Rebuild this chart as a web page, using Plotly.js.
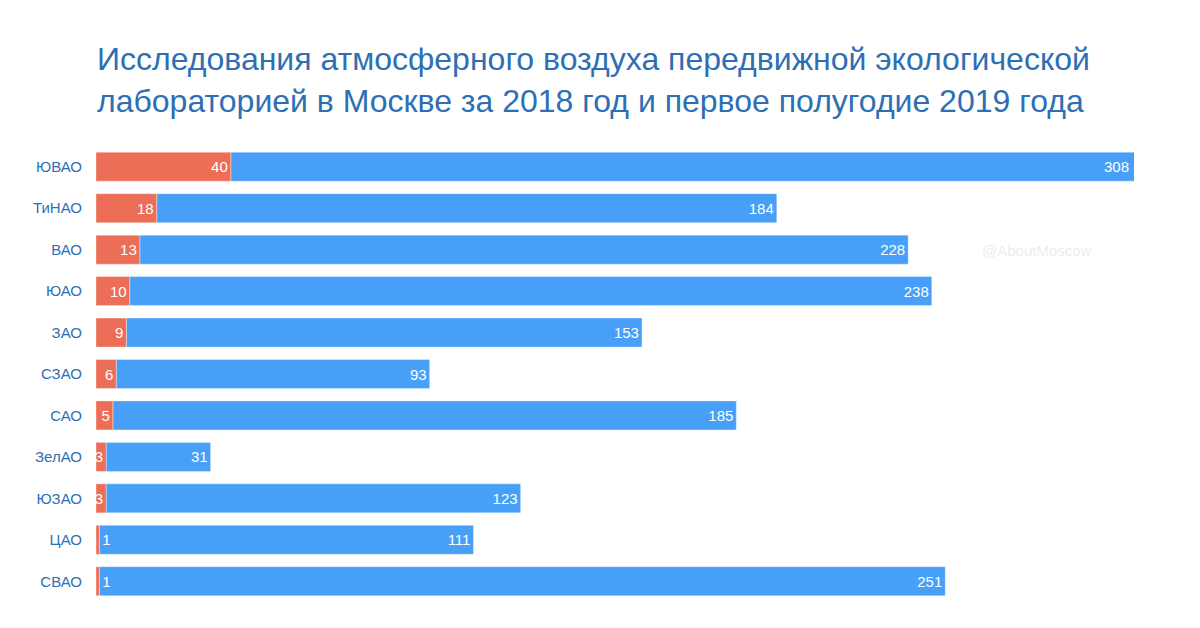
<!DOCTYPE html>
<html>
<head>
<meta charset="utf-8">
<script src="https://cdn.plot.ly/plotly-3.0.1.min.js"></script>
<style>html,body{margin:0;padding:0;background:#fff;}#chart{width:1200px;height:628px;}</style>
</head>
<body>
<div id="chart"></div>
<script>
const districts = ['ЮВАО','ТиНАО','ВАО','ЮАО','ЗАО','СЗАО','САО','ЗелАО','ЮЗАО','ЦАО','СВАО'];
const redValues = [40,18,13,10,9,6,5,3,3,1,1];
const blueValues = [308,184,228,238,153,93,185,31,123,111,251];
const titleText = 'Исследования атмосферного воздуха передвижной экологической<br>лабораторией в Москве за 2018 год и первое полугодие 2019 года';

const FONT = '"Liberation Sans", Arial, Helvetica, sans-serif';
const X_MAX = Math.max(...blueValues);

// bars whose stacked end goes past the axis range get their label at the axis edge
const clipped = blueValues.map((b, i) => redValues[i] + b > X_MAX);
const labelAnnotations = blueValues.map((b, i) => clipped[i] ? {
  x: X_MAX, y: districts[i], xref: 'x', yref: 'y', text: String(b),
  showarrow: false, xanchor: 'right', yanchor: 'middle', xshift: -3,
  font: {family: FONT, size: 15, color: '#ffffff'}
} : null).filter(Boolean);

const traces = [
  {
    type: 'bar', orientation: 'h', y: districts, x: blueValues, base: redValues,
    marker: {color: '#479FF7', line: {color: 'rgba(255,255,255,0.35)', width: 1}},
    text: blueValues.map((b, i) => clipped[i] ? '' : String(b)),
    textposition: 'inside', insidetextanchor: 'end',
    constraintext: 'none', textangle: 0,
    textfont: {color: '#ffffff', size: 15, family: FONT},
    hoverinfo: 'x+y', showlegend: false
  },
  {
    type: 'bar', orientation: 'h', y: districts, x: redValues,
    marker: {color: '#EC6E57', line: {color: 'rgba(255,255,255,0.35)', width: 1}},
    text: redValues.map(String),
    textposition: redValues.map(v => v < 2 ? 'outside' : 'inside'),
    insidetextanchor: 'end',
    constraintext: 'none', textangle: 0, cliponaxis: false,
    textfont: {color: '#ffffff', size: 15, family: FONT},
    outsidetextfont: {color: '#ffffff', size: 15, family: FONT},
    hoverinfo: 'x+y', showlegend: false
  }
];

const layout = {
  width: 1200, height: 628,
  paper_bgcolor: '#ffffff', plot_bgcolor: '#ffffff',
  barmode: 'overlay', bargap: 0.3,
  margin: {l: 96, r: 66, t: 146, b: 26},
  font: {family: FONT},
  title: {
    text: titleText,
    font: {family: FONT, size: 32, color: '#2E6FB4'},
    x: 97/1200, xref: 'container', xanchor: 'left',
    y: 1 - 70/628, yref: 'container', yanchor: 'top'
  },
  xaxis: {range: [0, X_MAX], visible: false, showgrid: false, zeroline: false, fixedrange: true},
  yaxis: {
    autorange: 'reversed', showgrid: false, zeroline: false, showline: false,
    ticks: 'outside', ticklen: 10, tickcolor: 'rgba(0,0,0,0)',
    tickfont: {family: FONT, size: 15, color: '#2E6FB4'}
  },
  annotations: labelAnnotations.concat([{
    text: '@AboutMoscow', xref: 'paper', yref: 'paper', x: (1037 - 96)/(1134 - 96), y: 1 - (250 - 146)/(602 - 146),
    showarrow: false, xanchor: 'center', yanchor: 'middle',
    font: {family: FONT, size: 15, color: '#EDEDED'}
  }])
};

Plotly.newPlot('chart', traces, layout, {displayModeBar: false, staticPlot: true});
</script>
</body>
</html>
